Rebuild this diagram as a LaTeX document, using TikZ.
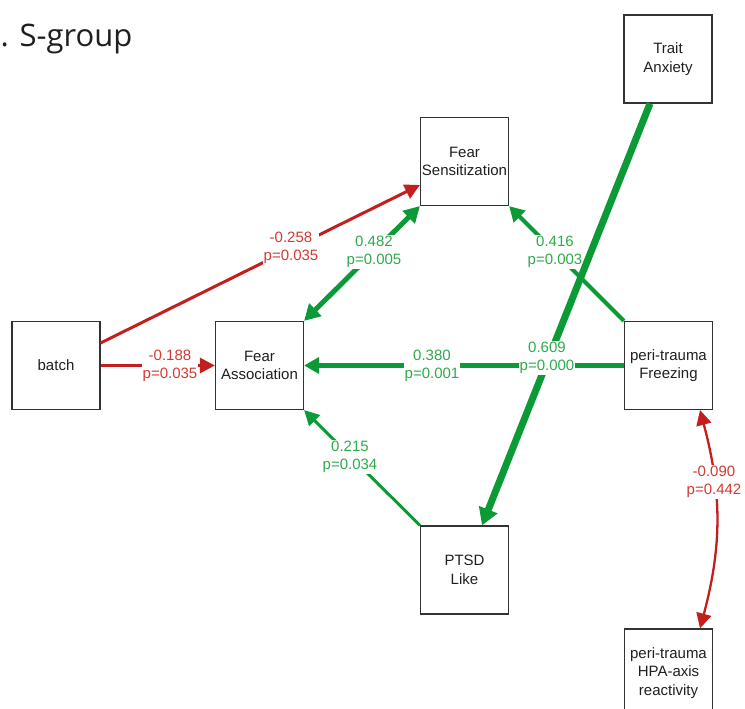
\documentclass[tikz,border=0pt]{standalone}
\usepackage{fontspec}
\setmainfont{Liberation Sans}
\newfontfamily\titlefont{Open Sans}
\usetikzlibrary{arrows.meta,calc}
\definecolor{redline}{HTML}{C21F1E}
\definecolor{redtext}{HTML}{D23A35}
\definecolor{greenline}{HTML}{0C9A37}
\definecolor{greentext}{HTML}{2EAA4B}
\definecolor{boxline}{HTML}{333333}
\tikzset{
  box/.style={draw=boxline, line width=1.15pt, minimum width=88pt, minimum height=88pt, inner sep=0pt, align=center, text=black!88, font=\fontsize{15}{18.5}\selectfont},
  lab/.style={fill=white, inner sep=0.8pt, align=center, font=\fontsize{15}{18.5}\selectfont},
  glab/.style={lab, text=greentext},
  rlab/.style={lab, text=redtext},
  tipA/.style={-{Triangle[length=15pt,width=15pt]}},
  tipB/.style={{Triangle[length=15pt,width=15pt]}-{Triangle[length=15pt,width=15pt]}},
}
\begin{document}
\begin{tikzpicture}[x=1pt,y=-1pt]
\useasboundingbox (0,0) rectangle (745,709);
\node[anchor=base west, inner sep=0pt, font=\titlefont\fontsize{31}{36}\selectfont, text=black!88] (title) at (0.5,47) {. S-group};

\node[box] (trait) at (668,59) {Trait\\Anxiety};
\node[box] (fs) at (464.5,161.5) {Fear\\Sensitization};
\node[box] (batch) at (56,365.5) {batch};
\node[box] (fa) at (259.5,365.5) {Fear\\Association};
\node[box] (frz) at (668.5,365.5) {peri-trauma\\Freezing};
\node[box] (ptsd) at (464.5,570) {PTSD\\Like};
\node[box] (hpa) at (668.5,673) {peri-trauma\\HPA-axis\\reactivity};

% red edges
\draw[redline, line width=3pt, tipA] ([yshift=22.5pt]batch.east) -- ([yshift=-23.5pt]fs.west);
\draw[redline, line width=3pt, tipA] (batch.east) -- (fa.west);
\draw[redline, line width=2.3pt, tipB] ([xshift=31.5pt]frz.south) to[bend left=15] ([xshift=31.5pt]hpa.north);

% green edges
\draw[greenline, line width=5pt, {Triangle[length=16pt,width=17pt]}-{Triangle[length=16pt,width=17pt]}] (fa.north east) -- (fs.south west);
\draw[greenline, line width=4pt, -{Triangle[length=15pt,width=16pt]}] (frz.north west) -- (fs.south east);
\draw[greenline, line width=4.5pt, -{Triangle[length=15pt,width=16pt]}] (frz.west) -- (fa.east);
\draw[greenline, line width=3pt, tipA] (ptsd.north west) -- (fa.south east);

% labels
\node[rlab] (l1) at (291,248) {-0.258\\p=0.035};
\node[rlab] (l2) at (170,366) {-0.188\\p=0.035};
\node[glab] (l3) at (374,252) {0.482\\p=0.005};
\node[glab] (l4) at (555,252) {0.416\\p=0.003};
\node[glab] (l5) at (432,366) {0.380\\p=0.001};
\node[glab] (l7) at (350,457) {0.215\\p=0.034};
\node[rlab] (l8) at (714,482) {-0.090\\p=0.442};

\draw[greenline, line width=7pt, -{Triangle[length=17pt,width=19pt]}] ([xshift=-18pt]trait.south) -- ([xshift=17.5pt]ptsd.north);
\node[glab] (l6) at (547,358) {0.609\\p=0.000};
\end{tikzpicture}
\end{document}
